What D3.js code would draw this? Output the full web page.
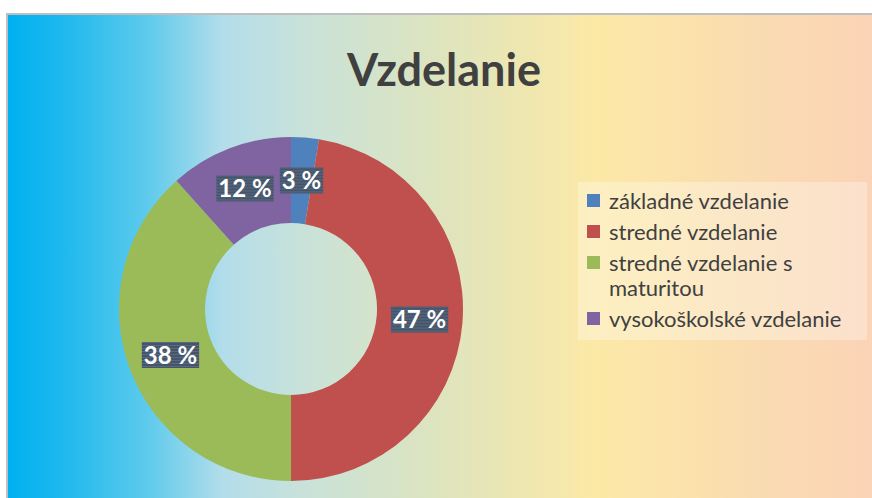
<!DOCTYPE html>
<html>
<head>
<meta charset="utf-8">
<script src="https://cdn.jsdelivr.net/npm/d3@7"></script>
<style>
  html, body { margin: 0; padding: 0; background: #fff; }
  svg { display: block; }
</style>
</head>
<body>
<div id="app"></div>
<script>
const title = "Vzdelanie";
const categories = [
  "základné vzdelanie",
  "stredné vzdelanie",
  "stredné vzdelanie s maturitou",
  "vysokoškolské vzdelanie"
];
const legendLines = [
  ["základné vzdelanie"],
  ["stredné vzdelanie"],
  ["stredné vzdelanie s", "maturitou"],
  ["vysokoškolské vzdelanie"]
];
const shares = [2.6, 47.4, 38.4, 11.6];
const colors = ["#4F81BD", "#C0504D", "#9BBB59", "#8064A2"];

const screen = { width: 872, height: 498 };
const frame = { x: 7, y: 14 };
const pieCfg = { cx: 291, cy: 309, outer: 172, inner: 86 };
const fontFamily = "Lato, 'Open Sans', sans-serif";

const data = categories.map((c, i) => ({ name: c, value: shares[i], color: colors[i] }));

const svg = d3.select("#app")
  .append("svg")
  .attr("width", screen.width)
  .attr("height", screen.height);

const defs = svg.append("defs");

// background gradient, blue on the left to peach on the right
const grad = defs.append("linearGradient")
  .attr("id", "bg")
  .attr("gradientUnits", "userSpaceOnUse")
  .attr("x1", frame.x).attr("x2", screen.width)
  .attr("y1", 0).attr("y2", 0);
[
  [0, "#00B0F0"],
  [0.06, "#1BB8EE"],
  [0.16, "#5CCAEC"],
  [0.25, "#B3DDEA"],
  [0.34, "#C8E2DA"],
  [0.5, "#DEE4BE"],
  [0.68, "#FCE9A6"],
  [0.85, "#FADDB0"],
  [1, "#FBD3B7"]
].forEach(([o, c]) => grad.append("stop").attr("offset", o).attr("stop-color", c));

// striped fill for the data labels
const pat = defs.append("pattern")
  .attr("id", "stripes")
  .attr("patternUnits", "userSpaceOnUse")
  .attr("width", 4).attr("height", 3);
pat.append("rect").attr("width", 4).attr("height", 3).attr("fill", "#44546A");
pat.append("rect").attr("y", 2).attr("width", 4).attr("height", 1).attr("fill", "#5A6A80");

svg.append("rect")
  .attr("x", frame.x)
  .attr("y", frame.y)
  .attr("width", screen.width - frame.x + 5)
  .attr("height", screen.height - frame.y + 5)
  .attr("fill", "url(#bg)")
  .attr("stroke", "#BFBFBF")
  .attr("stroke-width", 2);

svg.append("text")
  .attr("x", 444)
  .attr("y", 86)
  .attr("text-anchor", "middle")
  .attr("font-family", fontFamily)
  .attr("font-weight", "bold")
  .attr("font-size", 45)
  .attr("fill", "#404040")
  .text(title);

const pie = d3.pie().sort(null).value((d) => d.value);
const arc = d3.arc().innerRadius(pieCfg.inner).outerRadius(pieCfg.outer);
const arcs = pie(data);

const g = svg.append("g").attr("transform", `translate(${pieCfg.cx},${pieCfg.cy})`);

g.selectAll("path")
  .data(arcs)
  .join("path")
  .attr("d", arc)
  .attr("fill", (d) => d.data.color);

const fmt = (v) => `${Math.round(v)} %`;

const labels = g.selectAll("g.label")
  .data(arcs)
  .join("g")
  .attr("class", "label")
  .attr("transform", (d) => `translate(${arc.centroid(d)})`);

labels.append("text")
  .attr("text-anchor", "middle")
  .attr("dy", "0.36em")
  .attr("font-family", fontFamily)
  .attr("font-weight", "bold")
  .attr("font-size", 24)
  .attr("fill", "#fff")
  .text((d) => fmt(d.data.value));

labels.each(function () {
  const sel = d3.select(this);
  const bb = sel.select("text").node().getBBox();
  sel.insert("rect", "text")
    .attr("x", bb.x - 2)
    .attr("y", -13)
    .attr("width", bb.width + 4)
    .attr("height", 26)
    .attr("fill", "url(#stripes)");
});

// legend
const legend = svg.append("g").attr("transform", "translate(578,182)");
legend.append("rect")
  .attr("width", 289)
  .attr("height", 158)
  .attr("fill", "#fff")
  .attr("fill-opacity", 0.3);

let y = 19;
legendLines.forEach((lines, i) => {
  const item = legend.append("g").attr("transform", `translate(0,${y})`);
  item.append("rect")
    .attr("x", 9).attr("y", -7)
    .attr("width", 13).attr("height", 13)
    .attr("fill", colors[i]);
  item.append("text")
    .attr("font-family", fontFamily)
    .attr("font-size", 22)
    .attr("fill", "#404040")
    .selectAll("tspan")
    .data(lines)
    .join("tspan")
    .attr("x", 31)
    .attr("y", (d, j) => j * 25)
    .attr("dy", "0.35em")
    .text((d) => d);
  y += 31 + (lines.length - 1) * 25;
});
</script>
</body>
</html>
